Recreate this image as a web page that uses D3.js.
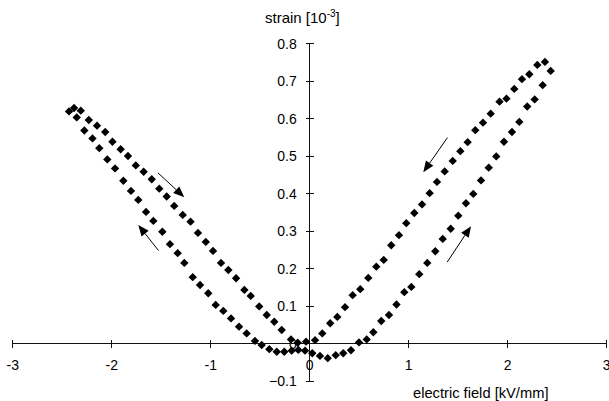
<!DOCTYPE html>
<html>
<head>
<meta charset="utf-8">
<script src="https://cdn.jsdelivr.net/npm/d3@7"></script>
<style>
html,body{margin:0;padding:0;background:#fff;}
svg{display:block;}
text{font-family:"Liberation Sans",Arial,Helvetica,sans-serif;fill:#000;}
</style>
</head>
<body>
<svg id="chart" width="609" height="401"></svg>
<script>
// ---- data (electric field kV/mm, strain 10^-3) ----
// branch 1: field rising 0 -> +2.4 (lower right branch)
const riseRightE = [0.026,0.104,0.182,0.263,0.339,0.417,0.498,0.576,0.643,0.723,0.801,0.877,0.956,1.027,1.107,1.188,1.269,1.344,1.425,1.501,1.579,1.653,1.731,1.809,1.885,1.963,2.044,2.118,2.198,2.273,2.354,2.435];
const riseRightS = [-0.026,-0.033,-0.039,-0.031,-0.026,-0.018,0.003,0.011,0.030,0.060,0.076,0.104,0.137,0.151,0.185,0.215,0.246,0.279,0.306,0.341,0.374,0.399,0.435,0.469,0.499,0.538,0.564,0.591,0.632,0.651,0.689,0.727];
// branch 2: field falling +2.4 -> 0 (upper right branch)
const fallRightE = [2.377,2.300,2.219,2.145,2.067,1.988,1.918,1.829,1.751,1.673,1.596,1.522,1.445,1.364,1.286,1.212,1.135,1.057,0.976,0.902,0.824,0.748,0.673,0.592,0.511,0.434,0.357,0.279,0.207,0.127,0.054];
const fallRightS = [0.751,0.743,0.718,0.705,0.679,0.653,0.645,0.613,0.589,0.569,0.537,0.513,0.487,0.459,0.431,0.401,0.371,0.348,0.321,0.289,0.262,0.223,0.205,0.175,0.145,0.129,0.097,0.071,0.054,0.027,0.009];
// branch 3: field falling 0 -> -2.4 (lower left branch)
const fallLeftE = [-0.047,-0.115,-0.182,-0.257,-0.333,-0.408,-0.485,-0.553,-0.637,-0.714,-0.795,-0.873,-0.950,-1.025,-1.108,-1.182,-1.267,-1.334,-1.412,-1.489,-1.580,-1.654,-1.732,-1.806,-1.883,-1.967,-2.045,-2.126,-2.195,-2.277,-2.354,-2.432];
const fallLeftS = [-0.019,-0.017,-0.019,-0.022,-0.022,-0.015,-0.004,0.007,0.027,0.045,0.067,0.087,0.103,0.134,0.156,0.177,0.215,0.241,0.265,0.298,0.327,0.351,0.383,0.407,0.434,0.467,0.491,0.521,0.547,0.568,0.603,0.619];
// branch 4: field rising -2.4 -> 0 (upper left branch)
const riseLeftE = [-2.381,-2.313,-2.232,-2.149,-2.066,-1.993,-1.910,-1.836,-1.757,-1.678,-1.596,-1.520,-1.445,-1.369,-1.283,-1.204,-1.129,-1.050,-0.977,-0.896,-0.822,-0.744,-0.660,-0.596,-0.510,-0.434,-0.358,-0.283,-0.189,-0.121,-0.037];
const riseLeftS = [0.628,0.621,0.596,0.581,0.564,0.538,0.518,0.500,0.475,0.458,0.438,0.413,0.392,0.367,0.343,0.325,0.295,0.271,0.247,0.215,0.196,0.174,0.143,0.127,0.099,0.076,0.058,0.036,0.011,0.002,0.005];

const xTicks = [-3,-2,-1,0,1,2,3];
const yTicks = [-0.1,0,0.1,0.2,0.3,0.4,0.5,0.6,0.7,0.8];
// arrows: [fromE, fromS, toE, toS]
const arrows = [
  [1.392,0.549,1.148,0.457],
  [1.389,0.217,1.630,0.313],
  [-1.533,0.455,-1.267,0.390],
  [-1.528,0.248,-1.732,0.316]
];

const svg = d3.select("#chart");
const x = d3.scaleLinear().domain([-3,3]).range([12.8,606.6]);
const y = d3.scaleLinear().domain([-0.1,0.8]).range([381,43.5]);
const FS = 14;

// axes
const g = svg.append("g").attr("stroke","#111").attr("stroke-width",1).attr("shape-rendering","crispEdges");
g.append("line").attr("x1",x(-3)).attr("x2",x(3)).attr("y1",y(0)).attr("y2",y(0));
g.append("line").attr("x1",x(0)).attr("x2",x(0)).attr("y1",y(-0.1)).attr("y2",y(0.8));
g.selectAll(".xt").data(xTicks).enter().append("line")
  .attr("x1",d=>x(d)).attr("x2",d=>x(d)).attr("y1",y(0)-4).attr("y2",y(0)+4);
g.selectAll(".yt").data(yTicks).enter().append("line")
  .attr("y1",d=>y(d)).attr("y2",d=>y(d)).attr("x1",x(0)-4).attr("x2",x(0)+4);

// tick labels
svg.selectAll(".xl").data(xTicks).enter().append("text")
  .attr("x",d=>x(d)).attr("y",y(0)+26).attr("text-anchor","middle").attr("font-size",FS)
  .text(d=>d);
svg.selectAll(".yl").data(yTicks).enter().append("text")
  .attr("x",x(0)-13).attr("y",d=>y(d)+5).attr("text-anchor","end").attr("font-size",FS)
  .text(d=>d===0?"0":d3.format(".1f")(d));

// axis titles
const t = svg.append("text").attr("x",265).attr("y",23).attr("font-size",15);
t.append("tspan").text("strain [10");
t.append("tspan").attr("font-size",10).attr("dy",-6).text("-3");
t.append("tspan").attr("dy",6).text("]");
svg.append("text").attr("x",413).attr("y",398).attr("font-size",14.7).text("electric field [kV/mm]");

// markers
const series = [
  [riseRightE, riseRightS],
  [fallRightE, fallRightS],
  [fallLeftE, fallLeftS],
  [riseLeftE, riseLeftS]
];
const pts = [];
series.forEach(([E,S]) => E.forEach((e,i) => pts.push([e,S[i]])));
const r = 4.2;
svg.append("g").selectAll("path").data(pts).enter().append("path")
  .attr("d", d => {
    const cx = x(d[0]), cy = y(d[1]);
    return `M${cx},${cy-r}L${cx+r},${cy}L${cx},${cy+r}L${cx-r},${cy}Z`;
  })
  .attr("fill","#000");

// arrows
const ag = svg.append("g");
arrows.forEach(a => {
  const x1 = x(a[0]), y1 = y(a[1]), x2 = x(a[2]), y2 = y(a[3]);
  const ang = Math.atan2(y2-y1, x2-x1);
  const L = 11, W = 4.5;
  const bx = x2 - L*Math.cos(ang), by = y2 - L*Math.sin(ang);
  ag.append("line").attr("x1",x1).attr("y1",y1).attr("x2",bx).attr("y2",by)
    .attr("stroke","#000").attr("stroke-width",1);
  const px = -Math.sin(ang)*W, py = Math.cos(ang)*W;
  ag.append("path").attr("d",`M${x2},${y2}L${bx+px},${by+py}L${bx-px},${by-py}Z`).attr("fill","#000");
});
</script>
</body>
</html>
